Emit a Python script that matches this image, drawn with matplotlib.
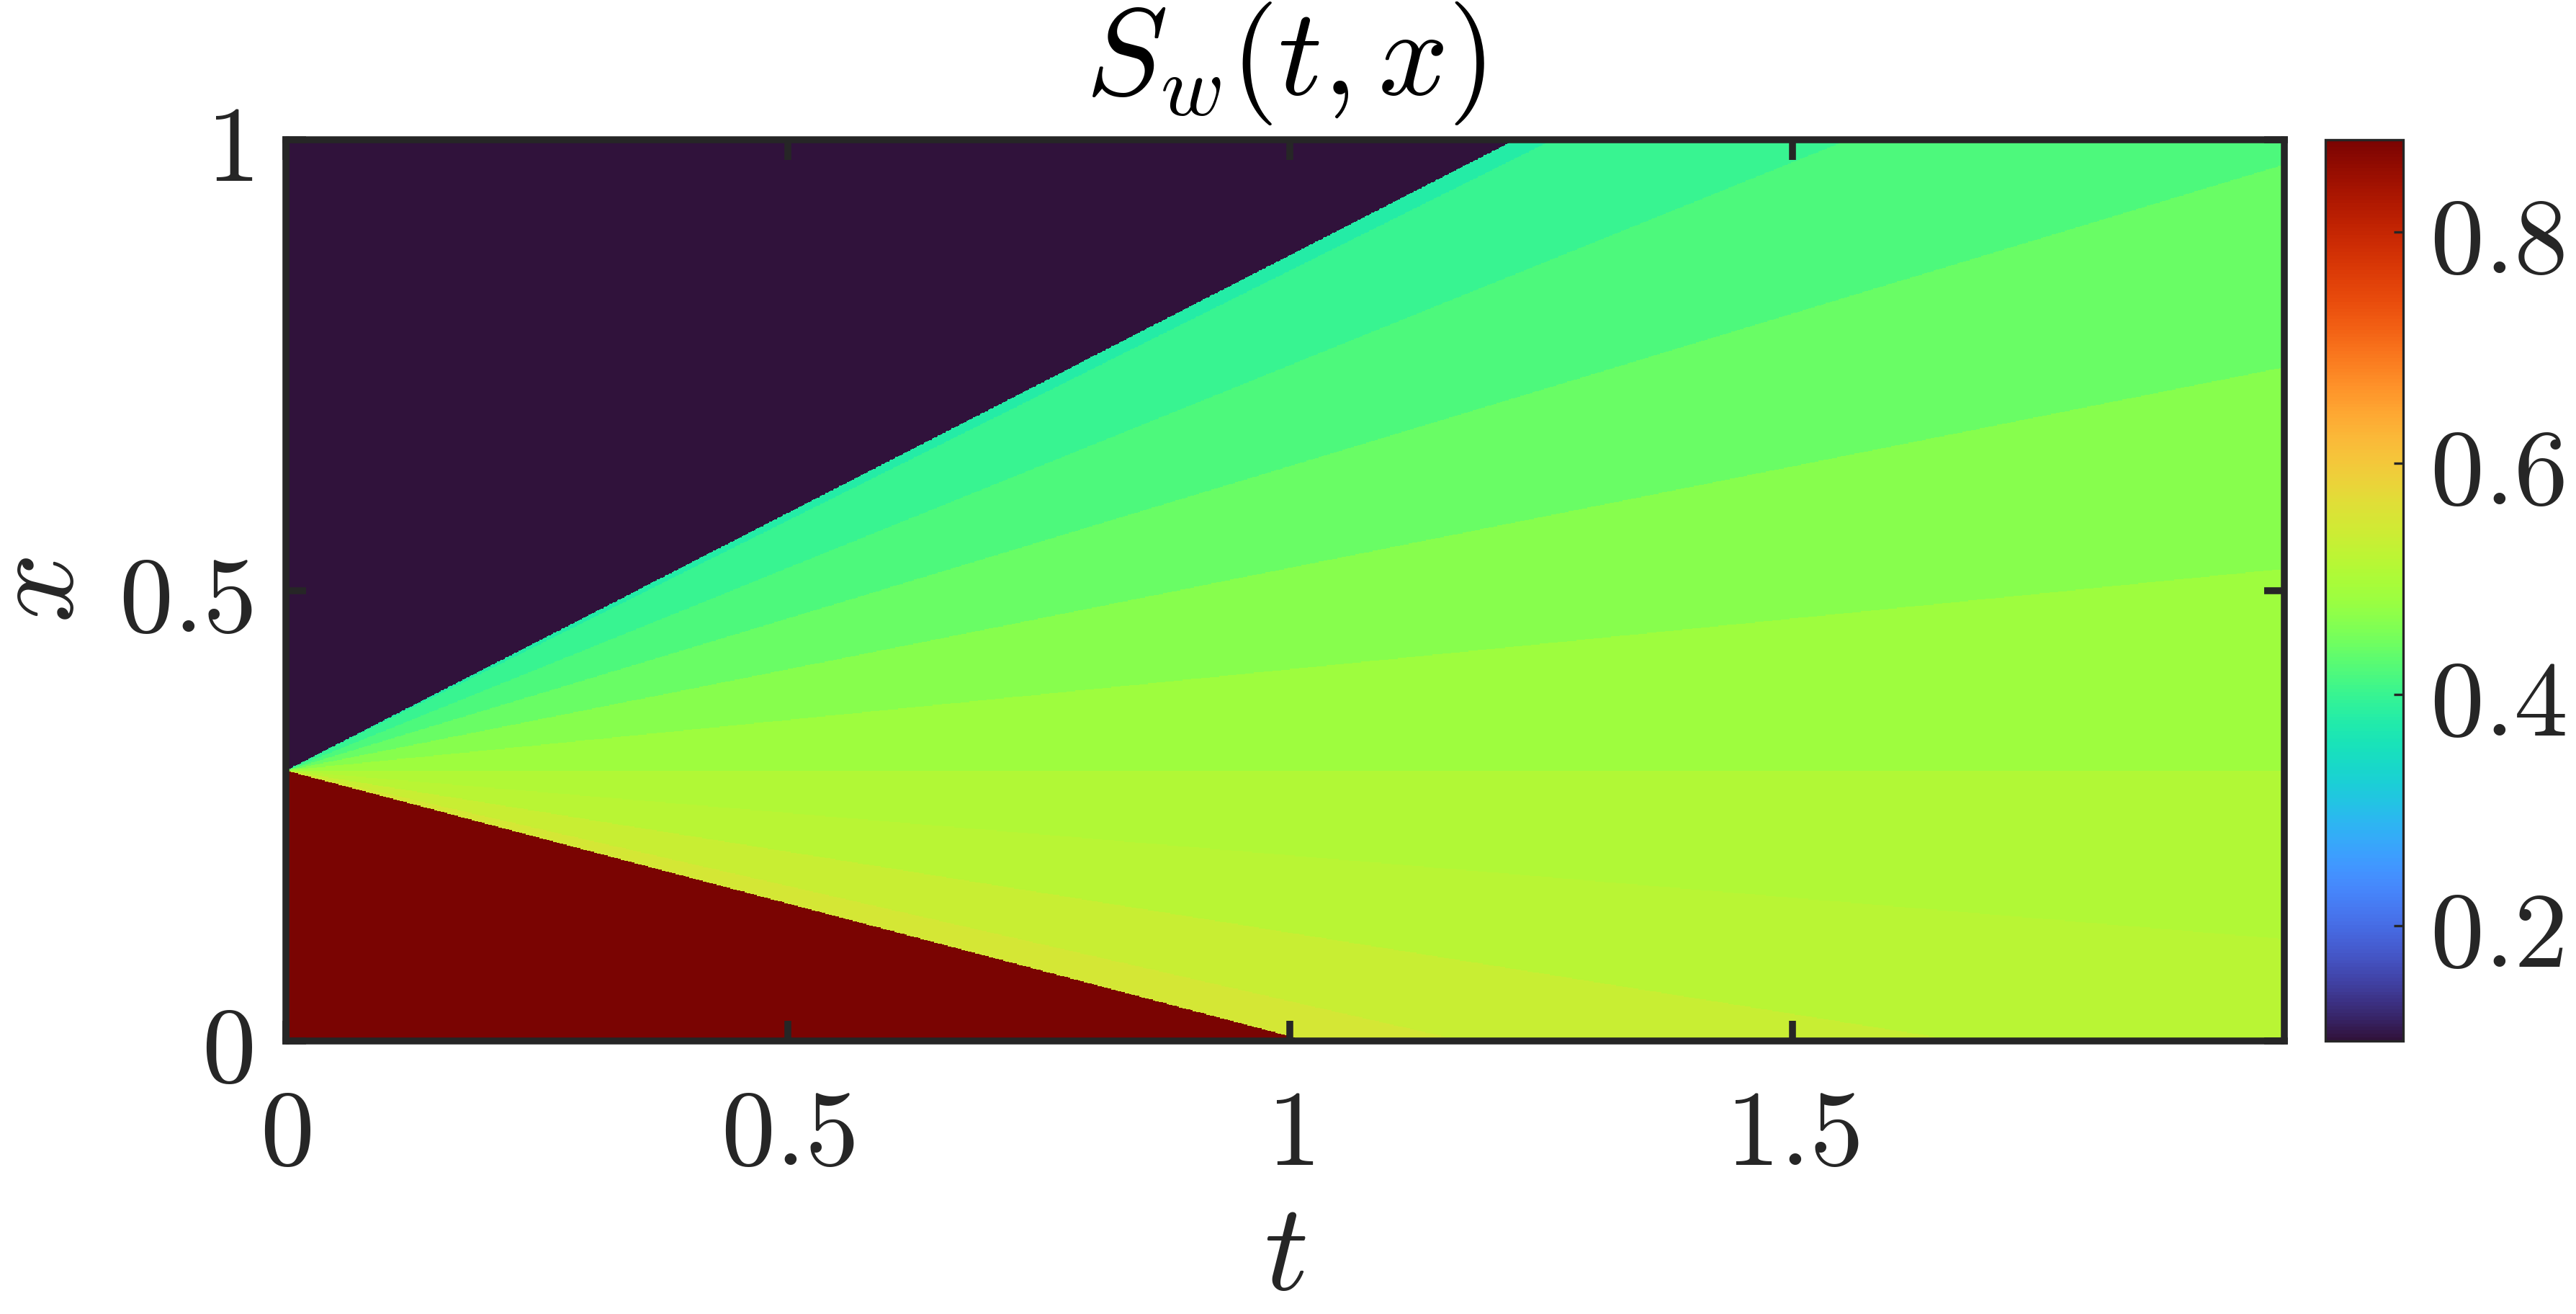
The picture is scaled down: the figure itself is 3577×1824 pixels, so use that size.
import numpy as np
import matplotlib
matplotlib.use("Agg")
import matplotlib.pyplot as plt

# ---- data ----
x_jump = 0.3                      # initial discontinuity position
t_max = 1.99
# speeds (dx/dt) of the fronts emanating from (t=0, x=x_jump), bottom to top
front_speeds = [-0.295, -0.256, -0.180, -0.094, 0.000, 0.1125, 0.225, 0.338, 0.450, 0.555, 0.572]
# saturation in each wedge between fronts (below first front ... above last front)
band_saturation = [0.88, 0.549, 0.533, 0.517, 0.506, 0.486, 0.463, 0.439, 0.418, 0.400, 0.380, 0.10]
clim = [0.10, 0.88]
xticks = [0, 0.5, 1, 1.5]
xtick_labels = ["0", "0.5", "1", "1.5"]
yticks = [0, 0.5, 1]
ytick_labels = ["0", "0.5", "1"]
cticks = [0.2, 0.4, 0.6, 0.8]
ctick_labels = ["0.2", "0.4", "0.6", "0.8"]

plt.rcParams['mathtext.fontset'] = 'cm'
plt.rcParams['font.family'] = ['DejaVu Serif']

W, H, DPI = 3578, 1824, 300
fig = plt.figure(figsize=(W / DPI, H / DPI), dpi=DPI)
fig.patch.set_facecolor('white')

L, R, T, B = 397, 3172, 194, 1445
ax = fig.add_axes([L / W, 1 - B / H, (R - L) / W, (B - T) / H])
cax = fig.add_axes([3229 / W, 1 - B / H, 108 / W, (B - T) / H])

# ---- field ----
nt, nx = 1600, 1000
t = (np.arange(nt) + 0.5) / nt * t_max
x = (np.arange(nx) + 0.5) / nx
TT, XX = np.meshgrid(t, x)
xi = (XX - x_jump) / TT
idx = np.searchsorted(np.array(front_speeds), xi)
S = np.array(band_saturation)[idx]

im = ax.imshow(S, origin='lower', extent=[0, t_max, 0, 1], aspect='auto',
               cmap='turbo', vmin=clim[0], vmax=clim[1], interpolation='nearest')

ax.set_xlim(0, t_max)
ax.set_ylim(0, 1)
dark = '#262626'
for sp in ax.spines.values():
    sp.set_linewidth(2.3)
    sp.set_color(dark)
ax.set_xticks(xticks)
ax.set_xticklabels(['$' + s + '$' for s in xtick_labels])
ax.set_yticks(yticks)
ax.set_yticklabels(['$' + s + '$' for s in ytick_labels])
ax.tick_params(direction='in', length=6.8, width=2.3, color=dark,
               top=True, right=True, labelsize=36, labelcolor=dark)
ax.tick_params(axis='x', pad=14)
ax.tick_params(axis='y', pad=11)

ax.set_title('$S_w(t,x)$', fontsize=41, pad=15, color='black')
ax.set_xlabel('$t$', fontsize=41, labelpad=3, color=dark)
ax.set_ylabel('$x$', fontsize=41, labelpad=7, color=dark)

cb = fig.colorbar(im, cax=cax, ticks=cticks)
cb.ax.set_yticklabels(['$' + s + '$' for s in ctick_labels])
cb.ax.tick_params(direction='in', length=3.2, width=0.8, color=dark,
                  labelsize=36, labelcolor=dark, pad=9)
cb.outline.set_linewidth(0.8)
cb.outline.set_edgecolor(dark)

fig.savefig('out.png', dpi=DPI, facecolor='white')
